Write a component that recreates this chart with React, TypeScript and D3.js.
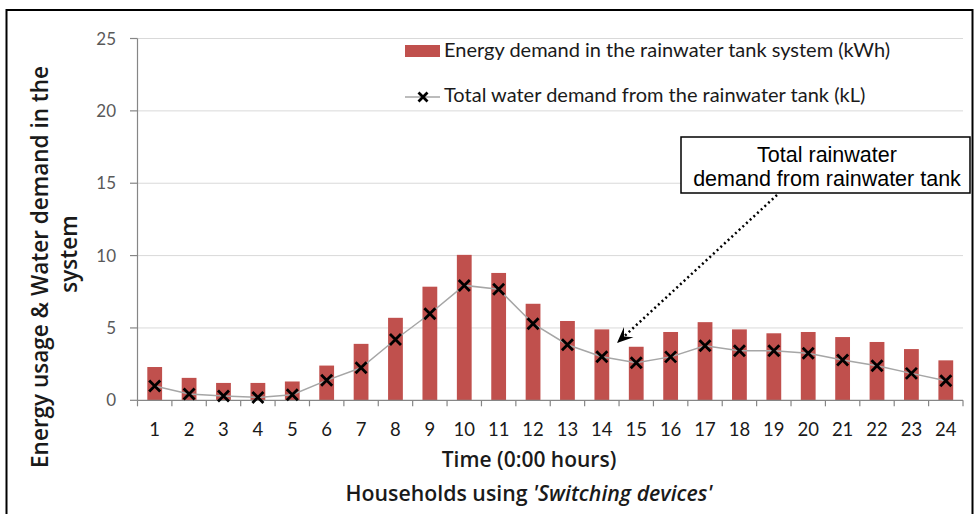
import React from 'react';
import * as d3 from 'd3';

const categories = ['1','2','3','4','5','6','7','8','9','10','11','12','13','14','15','16','17','18','19','20','21','22','23','24'];
const energy = [2.3,1.55,1.2,1.2,1.3,2.4,3.9,5.7,7.85,10.05,8.8,6.67,5.48,4.9,3.7,4.72,5.4,4.9,4.63,4.72,4.37,4.03,3.54,2.76];
const water = [0.99,0.43,0.3,0.2,0.39,1.38,2.25,4.2,5.98,7.94,7.67,5.29,3.84,3.01,2.6,3.0,3.77,3.43,3.43,3.25,2.78,2.39,1.86,1.35];
const yTicks = [0,5,10,15,20,25];
const legendLabels = ['Energy demand in the rainwater tank system (kWh)', 'Total water demand from the rainwater tank (kL)'];
const yTitle = ['Energy usage & Water demand in the', 'system'];
const xTitle = 'Time (0:00 hours)';
const noteLines = ['Total rainwater', 'demand from rainwater tank'];

const W = 976, H = 514;
const left = 137.5, right = 963, top = 38.5, bottom = 400.3;
const BAR = '#C0504D';
const FONT = 'Lato, "Open Sans", sans-serif';
const TFONT = '"Open Sans", Lato, sans-serif';

function Cross({ x, y, r = 5.5 }: { x: number; y: number; r?: number }) {
  return (
    <path d={`M${x - r},${y - r}L${x + r},${y + r}M${x - r},${y + r}L${x + r},${y - r}`} stroke="#000" strokeWidth={2.8} fill="none" />
  );
}

export default function App() {
  const x = d3.scaleBand<string>().domain(categories).range([left, right]).padding(0);
  const y = d3.scaleLinear().domain([0, 25]).range([bottom, top]);
  const bw = x.bandwidth() * 0.43;
  const cx = (c: string) => (x(c) as number) + x.bandwidth() / 2;
  const line = d3.line<number>().x((_, i) => cx(categories[i])).y((d) => y(d));

  // annotation arrow
  const a0 = [777, 195], a1 = [617, 343];
  const ang = Math.atan2(a1[1] - a0[1], a1[0] - a0[0]);
  const L = 16, Wd = 7;
  const bx = a1[0] - L * Math.cos(ang), by = a1[1] - L * Math.sin(ang);
  const nx = -Math.sin(ang), ny = Math.cos(ang);
  const ix = a1[0] - L * 0.6 * Math.cos(ang), iy = a1[1] - L * 0.6 * Math.sin(ang);
  const head = `M${a1[0]},${a1[1]}L${bx + nx * Wd},${by + ny * Wd}L${ix},${iy}L${bx - nx * Wd},${by - ny * Wd}Z`;

  const tickXs = [left, ...categories.map((c) => (x(c) as number) + x.bandwidth())];

  return (
    <svg width={W} height={H} style={{ position: 'absolute', left: 0, top: 0, background: '#fff' }} fontFamily={FONT}>
      <rect x={0} y={0} width={W} height={H} fill="#fff" />
      <rect x={6.5} y={10} width={966} height={520} fill="none" stroke="#000" strokeWidth={2} />
      {/* gridlines */}
      {yTicks.filter((t) => t > 0).map((t) => (
        <line key={t} x1={left} x2={right} y1={y(t)} y2={y(t)} stroke="#D9D9D9" strokeWidth={1} />
      ))}
      {/* y axis */}
      <line x1={left} x2={left} y1={top} y2={bottom} stroke="#868686" strokeWidth={1.2} />
      {yTicks.map((t) => (
        <g key={t}>
          <line x1={130} x2={left} y1={y(t)} y2={y(t)} stroke="#868686" strokeWidth={1.2} />
          <text x={116} y={y(t)} dy="0.36em" textAnchor="end" fontSize={17} fill="#595959">{t}</text>
        </g>
      ))}
      {/* bars */}
      {energy.map((v, i) => (
        <rect key={i} x={cx(categories[i]) - bw / 2} y={y(v)} width={bw} height={y(0) - y(v)} fill={BAR} />
      ))}
      {/* x axis */}
      <line x1={left} x2={right} y1={bottom} y2={bottom} stroke="#868686" strokeWidth={1.2} />
      {tickXs.map((tx, i) => (
        <line key={i} x1={tx} x2={tx} y1={bottom} y2={bottom + 6} stroke="#868686" strokeWidth={1.2} />
      ))}
      {categories.map((c) => (
        <text key={c} x={cx(c)} y={436} textAnchor="middle" fontSize={18.5} fill="#1a1a1a">{c}</text>
      ))}
      {/* water line */}
      <path d={line(water) || ''} fill="none" stroke="#A6A6A6" strokeWidth={1.5} />
      {water.map((v, i) => (
        <Cross key={i} x={cx(categories[i])} y={y(v)} />
      ))}
      {/* legend */}
      <rect x={405} y={45} width={35} height={12} fill={BAR} />
      <text x={444} y={57} fontSize={20} fill="#1a1a1a">{legendLabels[0]}</text>
      <line x1={405} x2={440} y1={97} y2={97} stroke="#A6A6A6" strokeWidth={1.5} />
      <Cross x={423} y={97} r={4.5} />
      <text x={444} y={102} fontSize={20} fill="#1a1a1a">{legendLabels[1]}</text>
      {/* axis titles */}
      <text x={529} y={467} textAnchor="middle" fontSize={21} fontWeight={600} fontFamily={TFONT} fill="#1a1a1a">{xTitle}</text>
      <text x={529} y={501} textAnchor="middle" fontSize={21.3} fontWeight={600} fontFamily={TFONT} fill="#1a1a1a">
        Households using <tspan fontStyle="italic">'Switching devices'</tspan>
      </text>
      <text transform="translate(48,267) rotate(-90)" textAnchor="middle" fontSize={22.5} fontWeight={600} fontFamily={TFONT} fill="#1a1a1a">{yTitle[0]}</text>
      <text transform="translate(77,254) rotate(-90)" textAnchor="middle" fontSize={22.5} fontWeight={600} fontFamily={TFONT} fill="#1a1a1a">{yTitle[1]}</text>
      {/* annotation */}
      <line x1={a0[0]} y1={a0[1]} x2={ix} y2={iy} stroke="#000" strokeWidth={2.5} strokeDasharray="2,3" />
      <path d={head} fill="#000" />
      <rect x={681} y={137} width={289} height={56} fill="#fff" stroke="#000" strokeWidth={1.5} />
      <text x={827} y={162} textAnchor="middle" fontSize={21.5} fontFamily='"Liberation Sans", Arial, sans-serif' fill="#000">{noteLines[0]}</text>
      <text x={827} y={186} textAnchor="middle" fontSize={21.5} fontFamily='"Liberation Sans", Arial, sans-serif' fill="#000">{noteLines[1]}</text>
    </svg>
  );
}
